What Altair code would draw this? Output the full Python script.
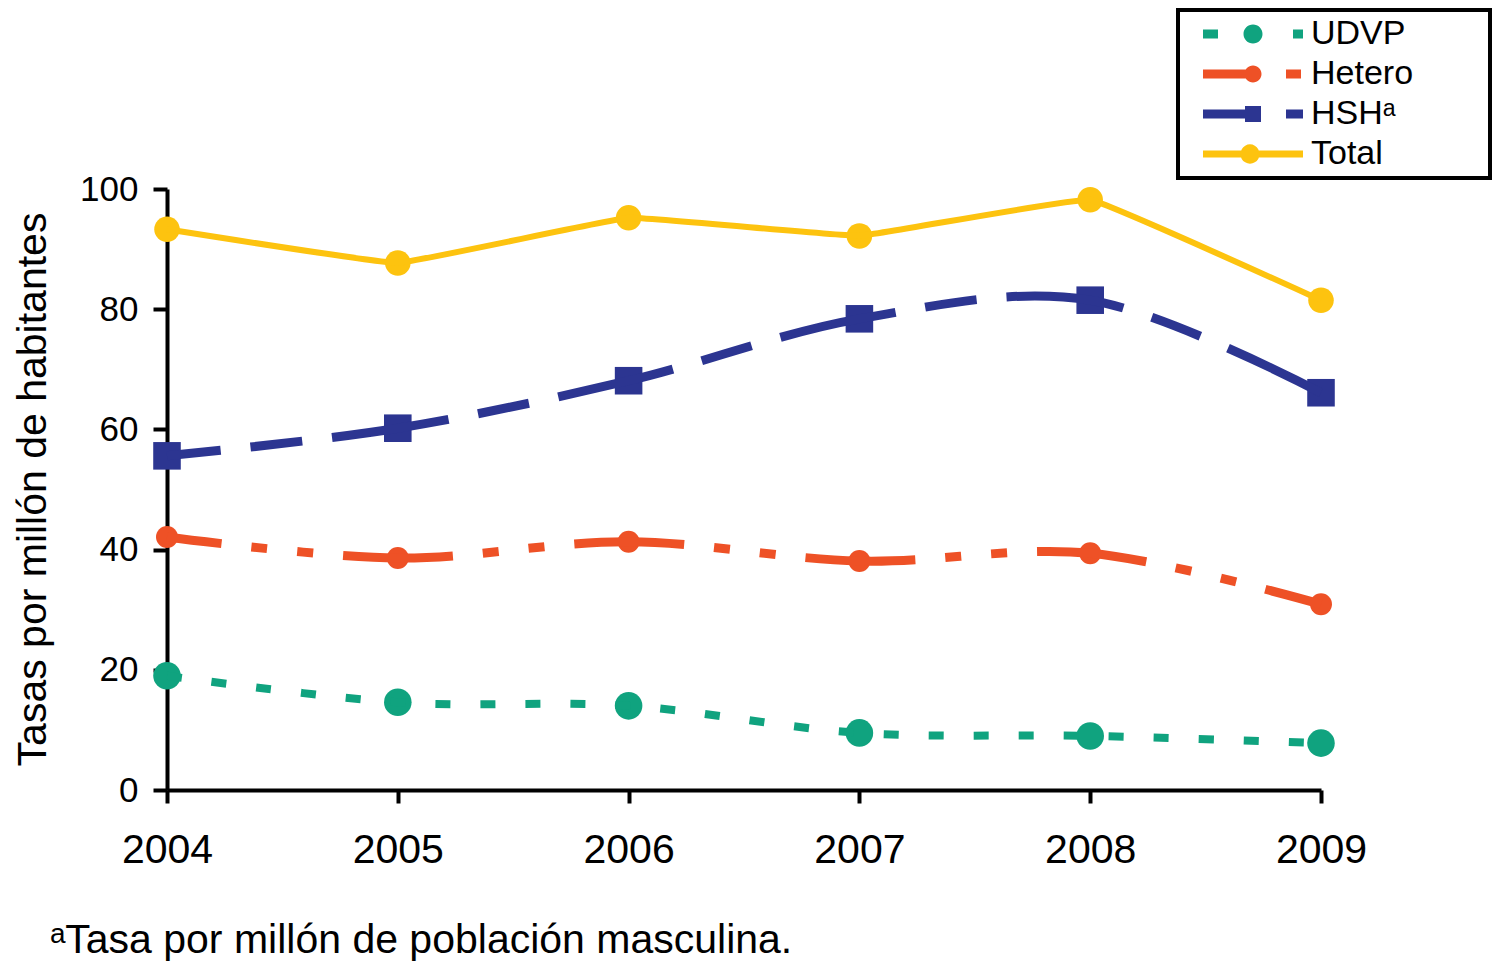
import pandas as pd
import altair as alt

years = [2004, 2005, 2006, 2007, 2008, 2009]
series = ["UDVP", "Hetero", "HSHᵃ", "Total"]
colors = ["#10a37f", "#ee5126", "#2c3591", "#fdc30f"]

udvp = [19.0, 14.6, 14.0, 9.5, 9.0, 7.8]
hetero = [42.1, 38.6, 41.3, 38.1, 39.4, 30.9]
hsh = [55.6, 60.2, 68.1, 78.4, 81.5, 66.1]
total = [93.3, 87.7, 95.2, 92.2, 98.2, 81.5]

y_ticks = [0, 20, 40, 60, 80, 100]
y_title = "Tasas por millón de habitantes"
footnote = "ᵃTasa por millón de población masculina."

FONT = "Liberation Sans, Arial, DejaVu Sans, sans-serif"

source = pd.DataFrame({
    "year": years * len(series),
    "series": [s for s in series for _ in years],
    "value": udvp + hetero + hsh + total,
})

# line / marker style per series
styles = {
    "UDVP": dict(dash=[15, 30], offset=0, width=8, tension=0, shape="circle", size=760),
    "Hetero": dict(dash=[110, 30, 16, 30, 16, 30], offset=55, width=9, tension=0, shape="circle", size=484),
    "HSHᵃ": dict(dash=[118, 30, 52, 30], offset=64, width=9, tension=0, shape="square", size=760),
    "Total": dict(dash=None, offset=0, width=6, tension=0.8, shape="circle", size=650),
}

# legend symbols: filled paths, written in px and scaled to the symbol unit
ROW = 36  # legend row height = sqrt(symbolSize)
U = ROW / 2


def u(v):
    return round(v / U, 4)


def rect(x1, x2, h):
    return f"M{u(x1)},{u(-h)}L{u(x2)},{u(-h)}L{u(x2)},{u(h)}L{u(x1)},{u(h)}Z"


def circ(cx, r):
    return (f"M{u(cx - r)},0A{u(r)},{u(r)} 0 1,1 {u(cx + r)},0"
            f"A{u(r)},{u(r)} 0 1,1 {u(cx - r)},0Z")


# invisible move-tos that fix the bounds of every entry
extent = f"M0,{u(-U)}M0,{u(U)}M{u(231)},0"
legend_paths = [
    rect(-50, -35, 4.5) + circ(0, 9.5) + rect(40, 50, 4.5) + extent,
    rect(-50, 0, 4.5) + circ(0, 8.5) + rect(33, 48, 4.5) + extent,
    rect(-50, -5, 4.5) + rect(-8, 8, 8) + rect(33, 50, 4.5) + extent,
    rect(-50, 50, 3.5) + circ(-3, 9.5) + extent,
]
shape_expr = "[" + ",".join(f"'{p}'" for p in legend_paths) + "][datum.index]"

legend = alt.Legend(
    title=None,
    orient="none",
    legendX=1011,
    legendY=-179,
    padding=6,
    rowPadding=4,
    symbolType=alt.ExprRef(expr=shape_expr),
    symbolFillColor=alt.ExprRef(expr="scale('color', datum.value)"),
    symbolStrokeColor="transparent",
    symbolStrokeWidth=0,
    symbolOpacity=1,
    symbolSize=ROW * ROW,
    symbolOffset=51,
    labelOffset=40,
    labelFont=FONT,
    labelFontSize=34,
    labelColor="black",
    labelLimit=300,
    strokeColor="black",
)

color = alt.Color(
    "series:N",
    scale=alt.Scale(domain=series, range=colors),
    sort=series,
    legend=legend,
)

x = alt.X(
    "year:Q",
    scale=alt.Scale(domain=[2004, 2009], nice=False, zero=False),
    axis=alt.Axis(
        values=years,
        format="d",
        title=None,
        grid=False,
        labelFont=FONT,
        labelFontSize=41,
        labelColor="black",
        labelPadding=27,
        labelFlush=False,
        labelOverlap=False,
        tickSize=13,
        tickWidth=4,
        tickColor="black",
        domainColor="black",
        domainWidth=4,
    ),
)

y = alt.Y(
    "value:Q",
    scale=alt.Scale(domain=[0, 100], nice=False),
    axis=alt.Axis(
        values=y_ticks,
        title=y_title,
        grid=False,
        labelFont=FONT,
        labelFontSize=35,
        labelColor="black",
        labelPadding=15,
        labelFlush=False,
        tickSize=14,
        tickWidth=4,
        tickColor="black",
        domainColor="black",
        domainWidth=4,
        titleFont=FONT,
        titleFontSize=41,
        titleFontWeight="normal",
        titleColor="black",
        titleX=-122,
        titleY=300,
        titleBaseline="alphabetic",
        titleAlign="center",
    ),
)

# markers first (the merged legend takes its symbol encoding from the first layer)
point_layers = []
line_layers = []
for name in series:
    st = styles[name]
    base = alt.Chart(source).transform_filter(alt.datum.series == name)
    point_layers.append(
        base.mark_point(filled=True, shape=st["shape"], size=st["size"], opacity=1, strokeWidth=0)
        .encode(x=x, y=y, color=color)
    )
    line_opts = dict(interpolate="cardinal", tension=st["tension"], strokeCap="butt")
    if st["dash"]:
        line_opts["strokeDashOffset"] = st["offset"]
    enc = dict(x=x, y=y, color=color, strokeWidth=alt.value(st["width"]))
    if st["dash"]:
        enc["strokeDash"] = alt.value(st["dash"])
    line_layers.append(base.mark_line(**line_opts).encode(**enc))

chart = (
    alt.layer(*point_layers, *line_layers)
    .properties(
        width=1154,
        height=601,
        padding={"left": 159, "top": 181, "right": 172, "bottom": 177},
        autosize=alt.AutoSizeParams(type="none"),
        title=alt.TitleParams(
            footnote,
            orient="bottom",
            anchor="start",
            frame="group",
            dx=-117,
            offset=83,
            baseline="alphabetic",
            font=FONT,
            fontSize=41,
            fontWeight="normal",
            color="black",
        ),
    )
    .configure_view(stroke="transparent")
    .configure_legend(strokeWidth=4)
)

chart.save("out.html", embed_options={"renderer": "svg", "actions": False})
